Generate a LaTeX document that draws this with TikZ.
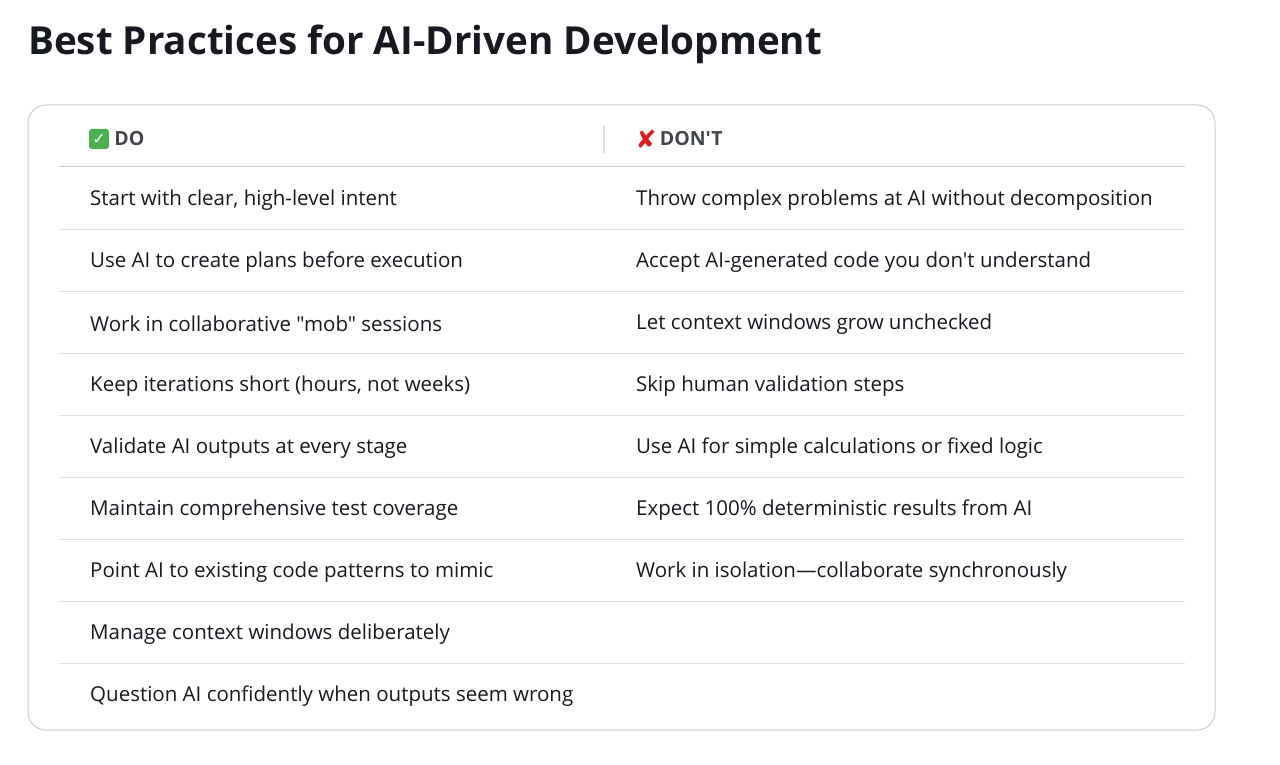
\documentclass[tikz,border=0pt]{standalone}
\usepackage{fontspec}
\setmainfont{Open Sans}[Ligatures=TeXOff]
\newfontfamily\symfont{DejaVu Sans}
\usetikzlibrary{positioning}
\definecolor{textcolor}{RGB}{22,25,31}
\definecolor{headcolor}{RGB}{65,69,76}
\definecolor{rulecolor}{RGB}{221,223,226}
\definecolor{cardedge}{RGB}{200,202,206}
\definecolor{docolor}{RGB}{76,175,80}
\definecolor{dontcolor}{RGB}{222,30,30}
\begin{document}
\begin{tikzpicture}[x=1pt, y=-1pt,
    title/.style={anchor=west, inner sep=0pt, font=\bfseries\fontsize{38.6}{48}\selectfont, text=textcolor},
    head/.style={anchor=west, inner sep=0pt, font=\bfseries\fontsize{19.5}{24}\selectfont, text=headcolor},
    cell/.style={anchor=west, inner sep=0pt, font=\fontsize{20.5}{24}\selectfont, text=textcolor},
    rowrule/.style={draw=rulecolor, line width=1pt}
]
\useasboundingbox (0,0) rectangle (1280,765);

% Title
\node[title] (heading) at (28,44) {Best Practices for AI-Driven Development};

% Card
\draw[cardedge, line width=1pt, rounded corners=18pt] (28,105) rectangle (1215,730);

% Header
\node[fill=docolor, rounded corners=3pt, minimum size=20pt, inner sep=0pt,
      text=white, font=\symfont\fontsize{16}{16}\selectfont\bfseries] (doicon) at (99,139) {✓};
\node[head, right=5pt of doicon] (dohead) {DO};
\node[text=dontcolor, inner sep=0pt, font=\symfont\fontsize{25}{25}\selectfont\bfseries] (donticon) at (646,139) {✘};
\node[head, right=3pt of donticon] (donthead) {DON'T};
\coordinate (septop) at (604,126);
\coordinate (sepbot) at (604,153);
\draw[rulecolor, line width=1.5pt] (septop) -- (sepbot);
\coordinate (headl) at (59,167);
\coordinate (headr) at (1185,167);
\draw[rowrule, draw=cardedge] (headl) -- (headr);

% Rows
\foreach \i/\dotext/\donttext in {
    1/{Start with clear, high-level intent}/{Throw complex problems at AI without decomposition},
    2/{Use AI to create plans before execution}/{Accept AI-generated code you don't understand},
    3/{Work in collaborative "mob" sessions}/{Let context windows grow unchecked},
    4/{Keep iterations short (hours, not weeks)}/{Skip human validation steps},
    5/{Validate AI outputs at every stage}/{Use AI for simple calculations or fixed logic},
    6/{Maintain comprehensive test coverage}/{Expect 100\% deterministic results from AI},
    7/{Point AI to existing code patterns to mimic}/{Work in isolation—collaborate synchronously},
    8/{Manage context windows deliberately}/{},
    9/{Question AI confidently when outputs seem wrong}/{}} {
  \node[cell] (do\i) at (90,138+62*\i) {\dotext};
  \node[cell] (dont\i) at (636,138+62*\i) {\donttext};
}
\foreach \i in {1,...,8} {
  \coordinate (rl\i) at (59,167+62*\i);
  \coordinate (rr\i) at (1185,167+62*\i);
  \draw[rowrule] (rl\i) -- (rr\i);
}
\end{tikzpicture}
\end{document}
